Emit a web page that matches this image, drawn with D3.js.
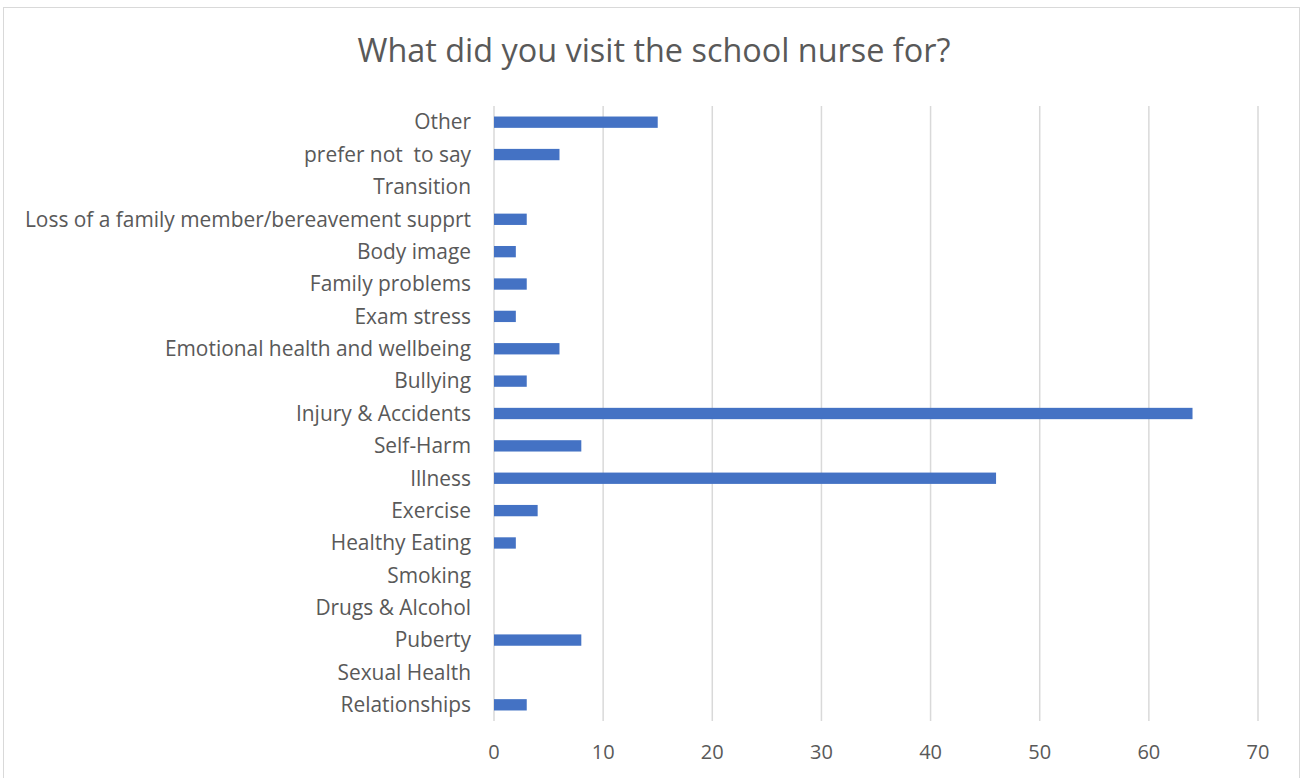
<!DOCTYPE html>
<html>
<head>
<meta charset="utf-8">
<script src="https://cdn.jsdelivr.net/npm/d3@7"></script>
<style>
  body { margin: 0; background: #fff; }
  text { font-family: "Open Sans", "Noto Sans", sans-serif; fill: #595959; white-space: pre; }
</style>
</head>
<body>
<div id="chart"></div>
<script>
// categories, top to bottom as shown
var categories = [
  "Other", "prefer not  to say", "Transition",
  "Loss of a family member/bereavement supprt", "Body image",
  "Family problems", "Exam stress", "Emotional health and wellbeing",
  "Bullying", "Injury & Accidents", "Self-Harm", "Illness", "Exercise",
  "Healthy Eating", "Smoking", "Drugs & Alcohol", "Puberty",
  "Sexual Health", "Relationships"
];
var counts = [15, 6, 0, 3, 2, 3, 2, 6, 3, 64, 8, 46, 4, 2, 0, 0, 8, 0, 3];
var xTicks = [0, 10, 20, 30, 40, 50, 60, 70];
var title = "What did you visit the school nurse for?";

var width = 1306, height = 778;
var margin = { top: 106, right: 48, bottom: 57, left: 494 };

var svg = d3.select("#chart").append("svg")
  .attr("width", width)
  .attr("height", height);

// chart frame
svg.append("rect")
  .attr("x", 3.5).attr("y", 7.5)
  .attr("width", 1296).attr("height", 790)
  .attr("fill", "none")
  .attr("stroke", "#d9d9d9");

var x = d3.scaleLinear().domain([0, 70]).range([margin.left, width - margin.right]);
var y = d3.scaleBand().domain(categories)
  .range([margin.top, height - margin.bottom])
  .paddingInner(0.65).paddingOuter(0.325);

// gridlines
svg.append("g").selectAll("line")
  .data(xTicks)
  .enter().append("line")
  .attr("x1", function (d) { return x(d); })
  .attr("x2", function (d) { return x(d); })
  .attr("y1", margin.top)
  .attr("y2", height - margin.bottom)
  .attr("stroke", "#d9d9d9")
  .attr("stroke-width", 1.5);

// bars
svg.append("g").selectAll("rect")
  .data(categories)
  .enter().append("rect")
  .attr("x", x(0))
  .attr("y", function (d) { return y(d); })
  .attr("width", function (d, i) { return x(counts[i]) - x(0); })
  .attr("height", y.bandwidth())
  .attr("fill", "#4472c4");

// category labels
svg.append("g").selectAll("text")
  .data(categories)
  .enter().append("text")
  .attr("x", margin.left - 23)
  .attr("y", function (d) { return y(d) + y.bandwidth() / 2; })
  .attr("dy", "0.35em")
  .attr("text-anchor", "end")
  .attr("font-size", 20.9)
  .text(function (d) { return d; });

// x tick labels
svg.append("g").selectAll("text")
  .data(xTicks)
  .enter().append("text")
  .attr("x", function (d) { return x(d); })
  .attr("y", 752)
  .attr("dy", "0.35em")
  .attr("text-anchor", "middle")
  .attr("font-size", 20)
  .text(function (d) { return d; });

// title
svg.append("text")
  .attr("x", 654)
  .attr("y", 51)
  .attr("dy", "0.35em")
  .attr("text-anchor", "middle")
  .attr("font-size", 32.4)
  .text(title);
</script>
</body>
</html>
